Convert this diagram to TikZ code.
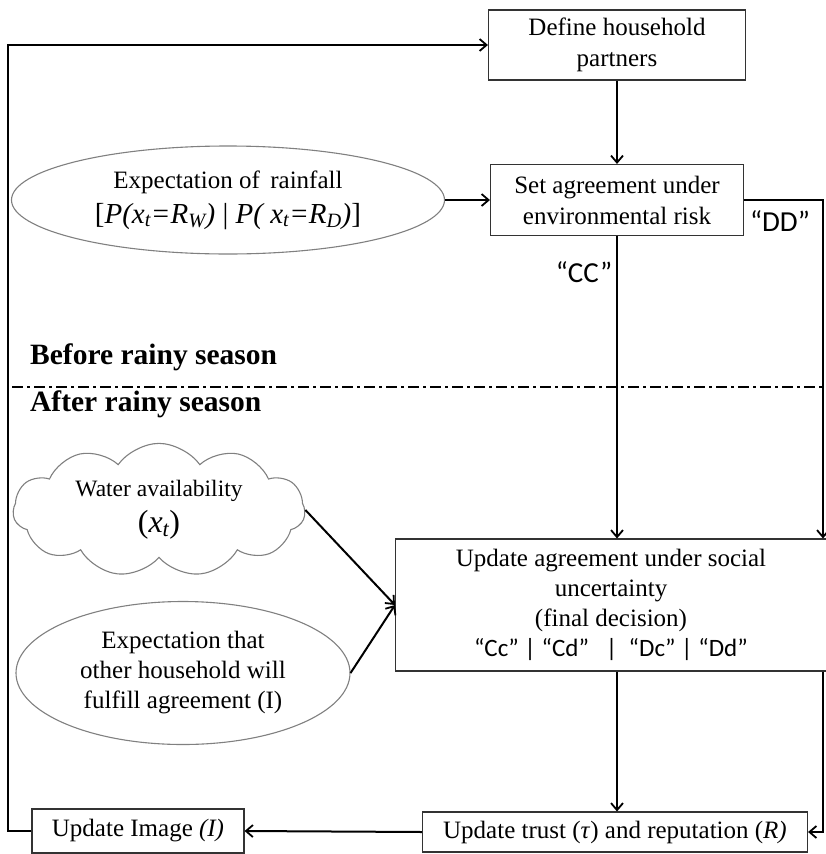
\documentclass[tikz,border=0pt]{standalone}
\usepackage{fontspec}
\setmainfont{Liberation Serif}
\newfontfamily\calfont{Carlito}
\usetikzlibrary{shapes.geometric,shapes.symbols,arrows.meta,calc}
\begin{document}
\begin{tikzpicture}[x=1pt,y=-1pt,
  box/.style={draw=black!80,line width=1.1pt,rectangle,align=center,inner sep=2pt,font=\fontsize{25}{31}\selectfont},
  oval/.style={draw=black!50,line width=1.1pt,ellipse,align=center,inner sep=0pt,font=\fontsize{25}{31}\selectfont},
  arr/.style={line width=2pt,-{Straight Barb[length=7pt,width=12pt,line width=1.8pt]}},
  lbl/.style={font=\calfont\fontsize{29}{30}\selectfont},
  season/.style={font=\bfseries\fontsize{29.5}{32}\selectfont,anchor=west,inner sep=0pt}]
\useasboundingbox (0,0) rectangle (826,854);
\fill[white] (0,0) rectangle (826,854);

\node[box,minimum width=257pt,minimum height=70pt] (def) at (617,45) {Define household\\partners};
\node[box,minimum width=253pt,minimum height=71pt] (set) at (617,200) {Set agreement under\\environmental risk};
\node[oval,minimum width=433pt,minimum height=108pt] (rain) at (228,200)
  {Expectation of\, rainfall\\[4pt]{\fontsize{29}{31}\selectfont[\textit{P(x\textsubscript{t}=R\textsubscript{W})} | \textit{P( x\textsubscript{t}=R\textsubscript{D})}]}};
\node[box,minimum width=431pt,minimum height=132pt,font=\fontsize{25}{30}\selectfont] (upd) at (611,605)
  {Update agreement under social\\uncertainty\\(final decision)\\{\calfont\fontsize{25}{30}\selectfont “Cc” | “Cd” \ \ | \ “Dc” | “Dd”}};
\node[box,minimum width=385pt,minimum height=40pt] (trust) at (615,832) {Update trust (\textit{τ}) and reputation (\textit{R)}};
\node[box,minimum width=212pt,minimum height=44pt] (img) at (138,831) {Update Image \textit{(I)}};
\node[cloud,cloud puffs=11,cloud puff arc=110,aspect=2.3,draw=black!50,line width=1.1pt,
  minimum width=292pt,minimum height=125pt,inner sep=0pt,align=center,font=\fontsize{23.5}{30}\selectfont] (water) at (159,510)
  {Water availability\\[6pt]{\fontsize{32}{34}\selectfont(\textit{x\textsubscript{t}})}};
\node[oval,minimum width=334pt,minimum height=143pt,font=\fontsize{25}{30}\selectfont] (expect) at (183,673)
  {Expectation that\\other household will\\fulfill agreement (I)};

\coordinate (lt) at (8,45);
\coordinate (lb) at (8,831);
\coordinate (dr) at (823,200);
\coordinate (rb) at (823,832);
\coordinate (dl) at (12,387);
\coordinate (dre) at (826,387);

\draw[arr,line width=2.4pt] (img.west) -- (lb) -- (lt) -- (def.west);
\draw[arr,line width=1.5pt] (def) -- (set);
\draw[arr] (rain) -- (set);
\draw[arr,line width=1.5pt] (set.south) -- (set.south |- upd.north);
\draw[arr,line width=1.5pt] (set.east) -- (dr) -- (dr |- upd.north);
\draw[arr,line width=1.5pt] (upd.south -| set.south) -- (trust.north -| set.south);
\draw[arr,line width=1.5pt] (upd.south -| dr) -- (rb) -- (trust.east);
\draw[arr] (trust.west) -- (img.east);
\draw[arr] (water.east) -- (upd.west);
\draw[arr] (expect.east) -- (upd.west);

\draw[line width=1.6pt,dash pattern=on 11pt off 4pt on 3pt off 4pt] (dl) -- (dre);

\node[lbl] (cc) at (584,272) {“CC”};
\node[lbl] (dd) at (780,221) {“DD”};
\node[season] (before) at (30,357) {Before rainy season};
\node[season] (after) at (30,404) {After rainy season};
\end{tikzpicture}
\end{document}
